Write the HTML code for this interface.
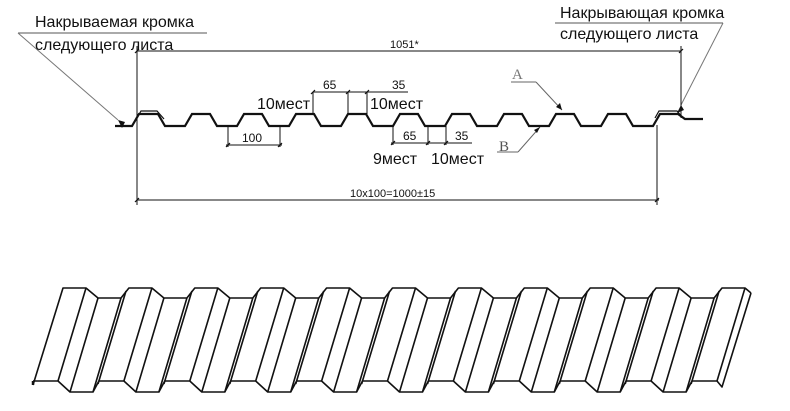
<!DOCTYPE html>
<html><head><meta charset="utf-8"><style>
html,body{margin:0;padding:0;background:#fff;}
svg{display:block;}
text{font-family:"Liberation Sans",Arial,sans-serif;fill:#111;}
</style></head><body>
<svg id="s" width="790" height="411" viewBox="0 0 790 411" xmlns="http://www.w3.org/2000/svg">
<g stroke="#111" fill="none" stroke-width="1">
<line x1="18" y1="33" x2="207" y2="33" stroke="#555"/>
<line x1="18" y1="33" x2="118" y2="120" stroke="#777"/>
<line x1="555" y1="23" x2="723" y2="23" stroke="#555"/>
<line x1="723" y1="23" x2="681" y2="105" stroke="#777"/>
<line x1="137" y1="51" x2="681" y2="51"/>
<line x1="137" y1="46" x2="137" y2="205"/>
<line x1="681" y1="46" x2="681" y2="118"/>
<line x1="137" y1="200" x2="659" y2="200"/>
<line x1="657" y1="125" x2="657" y2="205"/>
<line x1="228" y1="126" x2="228" y2="147"/>
<line x1="280" y1="126" x2="280" y2="147"/>
<line x1="226" y1="145" x2="282" y2="145"/>
<line x1="313" y1="92" x2="313" y2="114"/>
<line x1="348" y1="92" x2="348" y2="114"/>
<line x1="367" y1="92" x2="367" y2="114"/>
<line x1="313" y1="92" x2="348" y2="92"/>
<line x1="348" y1="92" x2="408" y2="92"/>
<line x1="393" y1="126" x2="393" y2="145"/>
<line x1="428" y1="126" x2="428" y2="145"/>
<line x1="446" y1="126" x2="446" y2="145"/>
<line x1="391" y1="143" x2="472" y2="143"/>
<line x1="511" y1="82" x2="536" y2="82" stroke="#666"/>
<line x1="536" y1="82" x2="562" y2="110" stroke="#666"/>
<line x1="497" y1="152" x2="518" y2="152" stroke="#666"/>
<line x1="518" y1="152" x2="540" y2="127" stroke="#666"/>
</g>
<g fill="#111">
<polygon points="118,120 122,128 125,122"/>
<polygon points="681,105 677,113 684,110"/>
<polygon points="562,110 556,107 560,103"/>
<polygon points="540,127 537,133 534,130"/>
<g stroke="#111" stroke-width="1.2">
<line x1="135" y1="53" x2="139" y2="49"/><line x1="679" y1="53" x2="683" y2="49"/>
<line x1="135" y1="202" x2="139" y2="198"/><line x1="655" y1="202" x2="659" y2="198"/>
<line x1="226" y1="147" x2="230" y2="143"/><line x1="278" y1="147" x2="282" y2="143"/>
<line x1="311" y1="94" x2="315" y2="90"/><line x1="346" y1="94" x2="350" y2="90"/><line x1="365" y1="94" x2="369" y2="90"/>
<line x1="391" y1="145" x2="395" y2="141"/><line x1="426" y1="145" x2="430" y2="141"/><line x1="444" y1="145" x2="448" y2="141"/>
</g>
</g>
<g id="prof" stroke="#111" fill="none" stroke-width="2.2"></g>
<g id="iso" stroke="#111" fill="none" stroke-width="1.6" stroke-linejoin="round"></g>
<text x="35" y="27" font-size="16">Накрываемая кромка</text>
<text x="35" y="50" font-size="16">следующего листа</text>
<text x="560" y="18" font-size="16">Накрывающая кромка</text>
<text x="560" y="39" font-size="16">следующего листа</text>
<text x="390" y="48" font-size="11">1051*</text>
<text x="323" y="89" font-size="12">65</text>
<text x="392" y="89" font-size="12">35</text>
<text x="257" y="109" font-size="16">10мест</text>
<text x="370" y="109" font-size="16">10мест</text>
<text x="242" y="142" font-size="12">100</text>
<text x="403" y="140" font-size="12">65</text>
<text x="455" y="140" font-size="12">35</text>
<text x="373" y="164" font-size="16">9мест</text>
<text x="431" y="164" font-size="16">10мест</text>
<text x="350" y="197" font-size="11">10x100=1000±15</text>
<text x="512" y="79" font-size="15" style="font-family:'Liberation Serif',serif;fill:#777">A</text>
<text x="499" y="151" font-size="15" style="font-family:'Liberation Serif',serif;fill:#555">B</text>
</svg>
<script>
var ns="http://www.w3.org/2000/svg";
function P(g,d,w){var p=document.createElementNS(ns,"path");p.setAttribute("d",d);if(w)p.setAttribute("stroke-width",w);document.getElementById(g).appendChild(p);}
var d="M115,126 L132,126 L139,114";
for(var k=0;k<=10;k++){var t=140+52*k;d+=" L"+(t+18)+",114";if(k<10){d+=" L"+(t+25)+",126 L"+(t+45)+",126 L"+(t+52)+",114";}else{d+=" L685,119 L703,119";}}
P("prof",d);
P("prof","M137,118 L141,111 L157,111 L164,119",1.2);
P("prof","M655,118 L659,111 L677,111 L684,119",1.2);
var pitch=65.9,x0=63;
var tp="M33,385 L63,288",bt="M33,381";
for(var k=0;k<11;k++){var xs=x0+pitch*k;
 tp+=" L"+(xs+23)+",288";
 if(k<10){tp+=" L"+(xs+35)+",298 L"+(xs+58)+",298 L"+(xs+pitch)+",288";}
 else tp+=" L"+(xs+29)+",293";
 var b=xs-30;
 bt+=" L"+(b+25)+",381";
 if(k<10){bt+=" L"+(b+37)+",392 L"+(b+60)+",392 L"+(b+pitch)+",381";}
 P("iso","M"+(xs+23)+",288 L"+(xs-5)+",381");
 if(k<10){P("iso","M"+(xs+35)+",298 L"+(xs+7)+",392");P("iso","M"+(xs+58)+",298 L"+(xs+30)+",392");P("iso","M"+(xs+63)+",291 L"+(xs+35)+",384");}
}
P("iso",tp);P("iso",bt+" L"+(x0+pitch*10)+",387 L"+(x0+pitch*10+29)+",293");
P("iso","M33,385 L33,381",2.5);
</script>
</body></html>
